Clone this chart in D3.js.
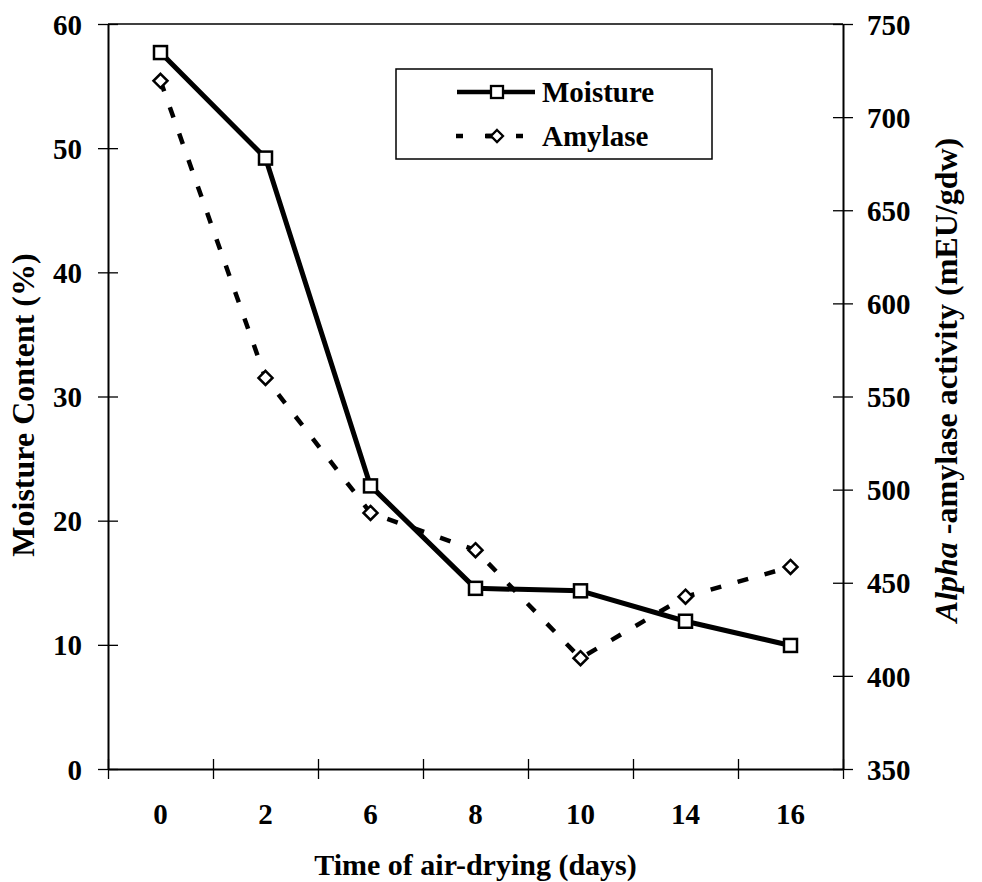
<!DOCTYPE html>
<html>
<head>
<meta charset="utf-8">
<script src="https://cdn.jsdelivr.net/npm/d3@7"></script>
<style>
  html, body { margin: 0; padding: 0; background: #fff; }
  svg { display: block; }
  text { font-family: "Liberation Serif", "Times New Roman", serif; font-weight: bold; fill: #000; }
</style>
</head>
<body>
<svg id="chart" width="982" height="882"></svg>
<script>
// Drying time categories (days)
const days = ["0", "2", "6", "8", "10", "14", "16"];
// Moisture content (%) — left axis
const moisture = [57.7, 49.2, 22.8, 14.55, 14.35, 11.9, 9.95];
// Alpha-amylase activity (mEU/gdw) — right axis
const amylase = [719.5, 560, 487.5, 467.5, 409.5, 442.5, 458.5];
// Axis tick values
const leftTicks = [0, 10, 20, 30, 40, 50, 60];
const rightTicks = [350, 400, 450, 500, 550, 600, 650, 700, 750];
const seriesNames = ["Moisture", "Amylase"];

const svg = d3.select("#chart");
const plot = { left: 108, right: 843, top: 24, bottom: 769 };

const x = d3.scaleBand().domain(days).range([plot.left, plot.right]).padding(0);
const xEdge = d3.scaleLinear().domain([0, days.length]).range([plot.left, plot.right]);
const yL = d3.scaleLinear().domain([0, 60]).range([plot.bottom, plot.top]);
const yR = d3.scaleLinear().domain([350, 750]).range([plot.bottom, plot.top]);

const cx = d => x(d) + x.bandwidth() / 2;

// Frame: top border
svg.append("line")
  .attr("x1", plot.left).attr("x2", plot.right)
  .attr("y1", plot.top).attr("y2", plot.top)
  .attr("stroke", "#000").attr("stroke-width", 1.5);

function crossTicks(g, horizontal) {
  g.select(".domain").attr("stroke", "#000").attr("stroke-width", 2);
  g.selectAll(".tick line").attr("stroke", "#000").attr("stroke-width", 1.3);
  if (horizontal) g.selectAll(".tick line").attr("y1", -10).attr("y2", 10);
  else g.selectAll(".tick line").attr("x1", -10).attr("x2", 10);
}

// Left axis
const gL = svg.append("g").attr("transform", `translate(${plot.left},0)`)
  .call(d3.axisLeft(yL).tickValues(leftTicks).tickSizeOuter(0).tickFormat(d3.format("d")));
crossTicks(gL, false);
gL.selectAll(".tick text").attr("x", -26).attr("dy", "0.35em")
  .style("font-size", "29px").style("font-family", null);

// Right axis
const gR = svg.append("g").attr("transform", `translate(${plot.right},0)`)
  .call(d3.axisRight(yR).tickValues(rightTicks).tickSizeOuter(0).tickFormat(d3.format("d")));
crossTicks(gR, false);
gR.selectAll(".tick text").attr("x", 24).attr("dy", "0.35em")
  .style("font-size", "29px").style("font-family", null);

// Bottom axis: ticks at category boundaries
const gB = svg.append("g").attr("transform", `translate(0,${plot.bottom})`)
  .call(d3.axisBottom(xEdge).tickValues(d3.range(days.length + 1)).tickSizeOuter(0).tickFormat(""));
crossTicks(gB, true);

// Bottom axis: category labels at band centres
const gBL = svg.append("g").attr("transform", `translate(0,${plot.bottom})`)
  .call(d3.axisBottom(x).tickSize(0));
gBL.select(".domain").remove();
gBL.selectAll(".tick text").attr("y", 55).attr("dy", 0)
  .style("font-size", "29px").style("font-family", null);

[gL, gR, gB, gBL].forEach(g => g.attr("font-family", null).attr("font-size", null));

// Axis titles
svg.append("text")
  .attr("x", (plot.left + plot.right) / 2).attr("y", 875)
  .attr("text-anchor", "middle").style("font-size", "30px")
  .text("Time of air-drying (days)");

svg.append("text")
  .attr("transform", "translate(34,405) rotate(-90)")
  .attr("text-anchor", "middle").style("font-size", "32px")
  .text("Moisture Content (%)");

const rt = svg.append("text")
  .attr("transform", "translate(957,380) rotate(-90)")
  .attr("text-anchor", "middle").style("font-size", "32px");
rt.append("tspan").style("font-style", "italic").text("Alpha");
rt.append("tspan").text(" -amylase activity (mEU/gdw)");

// Series lines
const moistData = days.map((d, i) => ({ d, v: moisture[i] }));
const amyData = days.map((d, i) => ({ d, v: amylase[i] }));

svg.append("path").datum(amyData)
  .attr("fill", "none").attr("stroke", "#000").attr("stroke-width", 4.5)
  .attr("stroke-dasharray", "11,17")
  .attr("d", d3.line().x(p => cx(p.d)).y(p => yR(p.v)));

svg.append("path").datum(moistData)
  .attr("fill", "none").attr("stroke", "#000").attr("stroke-width", 5)
  .attr("stroke-linejoin", "round")
  .attr("d", d3.line().x(p => cx(p.d)).y(p => yL(p.v)));

// Markers
const diamond = "M0,-7L7,0L0,7L-7,0Z";
svg.append("g").selectAll("path").data(amyData).join("path")
  .attr("d", diamond)
  .attr("transform", p => `translate(${cx(p.d)},${yR(p.v)})`)
  .attr("fill", "#fff").attr("stroke", "#000").attr("stroke-width", 2.5);

const sq = 13;
svg.append("g").selectAll("rect").data(moistData).join("rect")
  .attr("x", p => cx(p.d) - sq / 2).attr("y", p => yL(p.v) - sq / 2)
  .attr("width", sq).attr("height", sq)
  .attr("fill", "#fff").attr("stroke", "#000").attr("stroke-width", 2.5);

// Legend
const lg = svg.append("g");
lg.append("rect").attr("x", 396).attr("y", 69).attr("width", 316).attr("height", 90)
  .attr("fill", "#fff").attr("stroke", "#000").attr("stroke-width", 1.5);

const rows = [92, 136];
// Moisture entry
lg.append("line").attr("x1", 457).attr("x2", 535).attr("y1", rows[0]).attr("y2", rows[0])
  .attr("stroke", "#000").attr("stroke-width", 4.5);
lg.append("rect").attr("x", 497 - 6).attr("y", rows[0] - 6).attr("width", 12).attr("height", 12)
  .attr("fill", "#fff").attr("stroke", "#000").attr("stroke-width", 2.3);
// Amylase entry
lg.append("line").attr("x1", 456).attr("x2", 535).attr("y1", rows[1]).attr("y2", rows[1])
  .attr("stroke", "#000").attr("stroke-width", 4.5).attr("stroke-dasharray", "7,23");
lg.append("line").attr("x1", 485).attr("x2", 492).attr("y1", rows[1]).attr("y2", rows[1])
  .attr("stroke", "#000").attr("stroke-width", 4.5);
lg.append("path").attr("d", "M0,-6L6,0L0,6L-6,0Z")
  .attr("transform", `translate(497,${rows[1]})`)
  .attr("fill", "#fff").attr("stroke", "#000").attr("stroke-width", 2.3);
lg.selectAll("text.lbl").data(seriesNames).join("text").attr("class", "lbl")
  .attr("x", 542).attr("y", (d, i) => rows[i]).attr("dy", "0.35em")
  .style("font-size", "29px").text(d => d);
</script>
</body>
</html>
